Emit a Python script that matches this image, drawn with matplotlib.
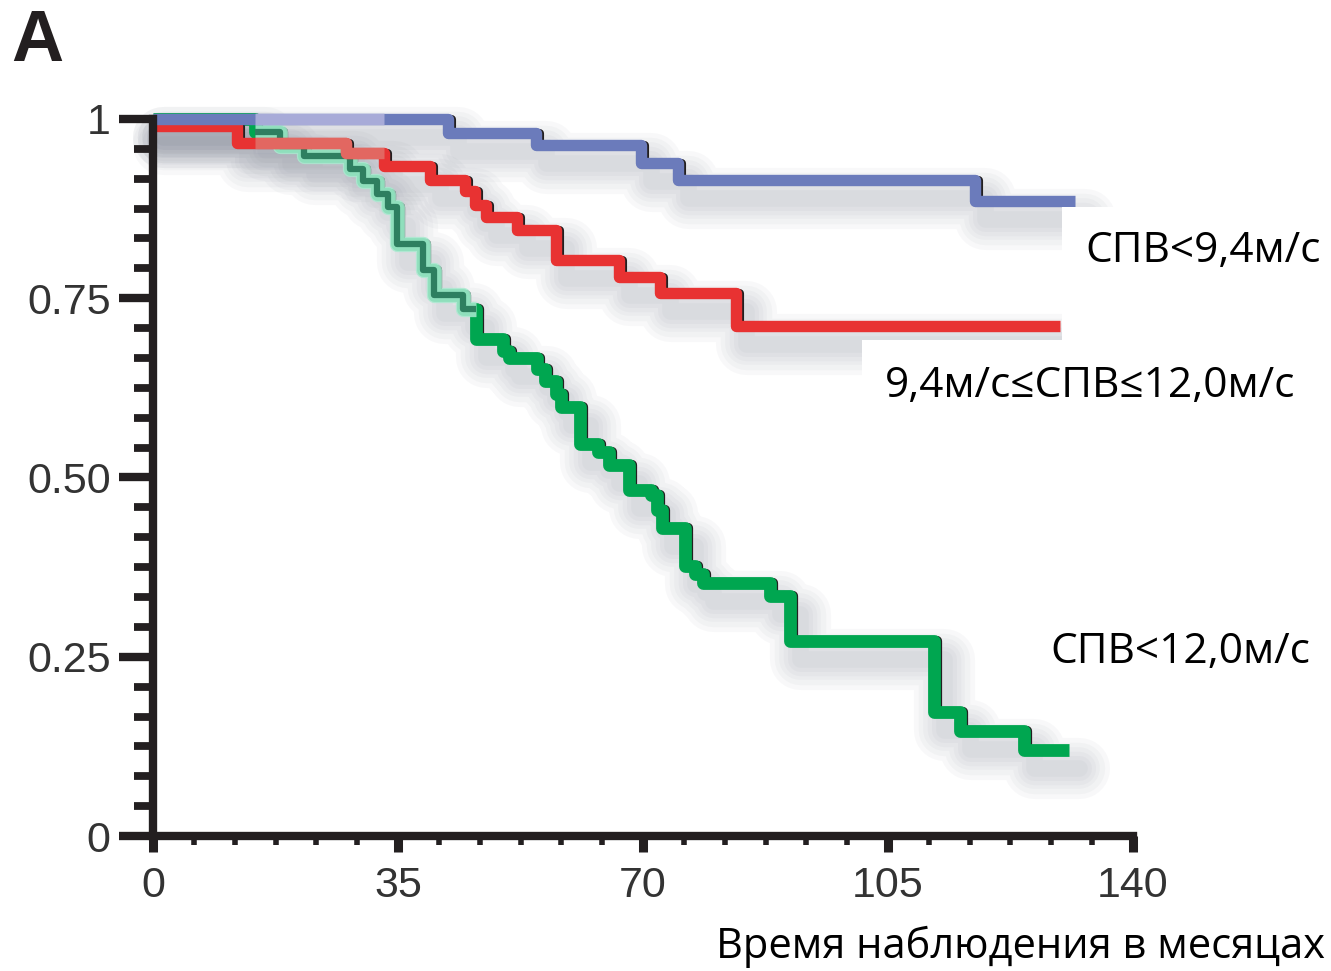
import matplotlib
matplotlib.use('Agg')
import numpy as np
import matplotlib.pyplot as plt
import matplotlib.transforms as mtransforms
from matplotlib.patches import Rectangle
from matplotlib.ticker import FixedLocator, MultipleLocator

###### Data ######
# blue: СПВ<9,4м/с
blue_t = [0, 42.2, 54.7, 69.7, 75.0, 117.4, 131.7]
blue_s = [1.0, 0.980, 0.964, 0.938, 0.915, 0.886, 0.886]

# red: 9,4м/с≤СПВ≤12,0м/с
red_t = [0, 12.0, 27.5, 33.0, 39.5, 44.5, 46.0, 47.5, 52.0, 57.5, 66.6, 72.4, 83.3, 129.5]
red_s = [0.99, 0.966, 0.953, 0.935, 0.915, 0.900, 0.880, 0.864, 0.845, 0.804, 0.780, 0.757, 0.711, 0.711]

# green: СПВ<12,0м/с
green_t = [0, 14.6, 18.2, 21.5, 28.2, 30.0, 32.0, 33.5, 34.8, 38.6,
           40.2, 44.3, 46.1, 50.0, 50.8, 54.9, 56.0, 57.5, 58.3, 61.0,
           63.6, 65.1, 68.0, 71.1, 72.0, 72.7, 76.0, 77.4, 78.5, 88.1,
           91.0, 111.5, 115.3, 124.4, 130.9]
green_s = [1.0, 0.982, 0.963, 0.948, 0.930, 0.913, 0.895, 0.877, 0.826, 0.790,
           0.755, 0.735, 0.693, 0.676, 0.667, 0.651, 0.635, 0.617, 0.599, 0.547,
           0.536, 0.517, 0.483, 0.476, 0.455, 0.430, 0.377, 0.365, 0.353, 0.335,
           0.272, 0.173, 0.146, 0.120, 0.120]

x_ticks = [0, 35, 70, 105, 140]
y_ticks = [0, 0.25, 0.5, 0.75, 1]
y_ticklabels = ['0', '0.25', '0.50', '0.75', '1']

labels = ['СПВ<9,4м/с', '9,4м/с≤СПВ≤12,0м/с', 'СПВ<12,0м/с']
xlabel = 'Время наблюдения в месяцах'

W, H = 1331, 971


def px(x, y):
    # pixel (from top-left) -> figure fraction
    return x / W, 1 - y / H


def step_slice(t, s, a, b):
    t = np.asarray(t, float)
    s = np.asarray(s, float)
    i0 = np.searchsorted(t, a, side='right') - 1
    inner = (t > a) & (t < b)
    tt = np.concatenate([[a], t[inner], [b]])
    last = s[inner][-1] if inner.any() else s[i0]
    ss = np.concatenate([[s[i0]], s[inner], [last]])
    return tt, ss


fig = plt.figure(figsize=(W / 100, H / 100), dpi=100)
x0, y1 = px(153, 119)
x1, y0 = px(1133, 836)
ax = fig.add_axes([x0, y0, x1 - x0, y1 - y0])

curves = [(green_t, green_s, '#00a650', 9.2),
          (red_t, red_s, '#e83232', 8.2),
          (blue_t, blue_s, '#6b7bbb', 8.2)]

# soft drop shadow (several wide translucent strokes)
shadow = mtransforms.offset_copy(ax.transData, fig, x=10, y=-18, units='dots')
for t, s, c, lw in curves:
    for w in [44, 37, 30, 24, 18, 12]:
        ax.plot(t, s, drawstyle='steps-post', color='#5c6478', alpha=0.04,
                lw=w, transform=shadow, clip_on=False, solid_joinstyle='round',
                solid_capstyle='round', zorder=1)

# thin dark edge on the right side of the drops
edge = mtransforms.offset_copy(ax.transData, fig, x=3, y=0, units='dots')
for i, (t, s, c, lw) in enumerate(curves):
    ax.plot(t[:-1], s[:-1], drawstyle='steps-post', color='#231f20', lw=lw * 0.8,
            transform=edge, clip_on=False, solid_capstyle='butt', zorder=2 + i)
    ax.plot(t, s, drawstyle='steps-post', color=c, lw=lw,
            clip_on=False, solid_capstyle='butt', zorder=2.5 + i)

# washed-out part in the upper left
gt, gs = step_slice(green_t, green_s, 14.6, 46.1)
ax.plot(gt, gs, drawstyle='steps-post', color='#a9ead0', lw=11, alpha=0.85,
        clip_on=False, solid_capstyle='butt', zorder=2.6)
ax.plot(gt, gs, drawstyle='steps-post', color='#2e7f60', lw=4.5,
        clip_on=False, solid_capstyle='butt', zorder=2.7)
rt, rs = step_slice(red_t, red_s, 14.6, 33.0)
ax.plot(rt, rs, drawstyle='steps-post', color='#e07a72', lw=8.2, alpha=0.75,
        clip_on=False, solid_capstyle='butt', zorder=3.6)
bt, bs = step_slice(blue_t, blue_s, 14.6, 33.0)
ax.plot(bt, bs, drawstyle='steps-post', color='#a8abd8', lw=8.2,
        clip_on=False, solid_capstyle='butt', zorder=4.6)

ax.set_xlim(0, 140)
ax.set_ylim(0, 1)
for side in ['top', 'right']:
    ax.spines[side].set_visible(False)
for side in ['left', 'bottom']:
    ax.spines[side].set_linewidth(6)
    ax.spines[side].set_color('#231f20')
    ax.spines[side].set_zorder(6)

ax.xaxis.set_major_locator(FixedLocator(x_ticks))
ax.xaxis.set_minor_locator(MultipleLocator(35 / 6))
ax.yaxis.set_major_locator(FixedLocator(y_ticks))
ax.yaxis.set_minor_locator(MultipleLocator(1 / 24))
ax.set_xticklabels([str(v) for v in x_ticks])
ax.set_yticklabels(y_ticklabels)

ax.tick_params(axis='y', which='major', length=24.5, width=6, color='#231f20', pad=6)
ax.tick_params(axis='y', which='minor', length=13.7, width=5.6, color='#231f20')
ax.tick_params(axis='x', which='major', length=11.5, width=6.5, color='#231f20', pad=10)
ax.tick_params(axis='x', which='minor', length=6.5, width=4, color='#231f20')
for lab in ax.get_xticklabels() + ax.get_yticklabels():
    lab.set_fontfamily('Liberation Sans')
    lab.set_fontsize(31)
    lab.set_color('#333333')

# white boxes behind the labels
for (lx, ly, rw, rh) in [(1062, 207, 269, 133), (862, 340, 469, 75)]:
    fx, fy = px(lx, ly + rh)
    fig.patches.append(Rectangle((fx, fy), rw / W, rh / H, transform=fig.transFigure,
                                 facecolor='white', edgecolor='none', zorder=1))

fam = ['Open Sans', 'DejaVu Sans']
fig.text(*px(1085, 262), labels[0], family=fam, fontsize=30.5, ha='left', va='baseline', zorder=5)
fig.text(*px(885, 397), labels[1], family=fam, fontsize=30.5, ha='left', va='baseline', zorder=5)
fig.text(*px(1050, 663), labels[2], family=fam, fontsize=30.5, ha='left', va='baseline', zorder=5)
fig.text(*px(1325, 958), xlabel, family=fam, fontsize=30, ha='right', va='baseline', zorder=5)
fig.text(*px(11, 61), 'A', family='Liberation Sans', fontweight='bold', fontsize=52,
         color='#231f20', ha='left', va='baseline')

fig.savefig('out.png', dpi=100, facecolor='white')
